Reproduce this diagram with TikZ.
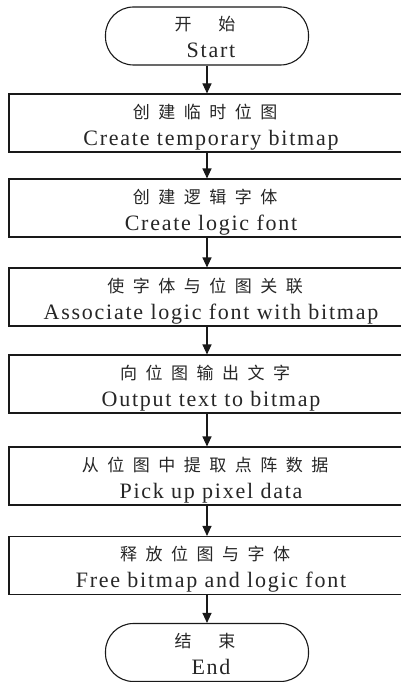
\documentclass[tikz,border=0pt]{standalone}
\usepackage{fontspec}
\setmainfont{Liberation Serif}[LetterSpace=8]
\newfontfamily\cjk[LetterSpace=50]{Noto Sans CJK SC}
\usetikzlibrary{arrows.meta}

\tikzset{
  procbox/.style={draw=black!90, line width=1.1pt, minimum width=396pt,
    minimum height=58pt, inner sep=0pt},
  termbox/.style={draw=black!90, line width=1.1pt, minimum width=203pt,
    minimum height=58pt, inner sep=0pt, rounded corners=28pt},
  cnlabel/.style={anchor=base, inner sep=0pt, font=\cjk\fontsize{17}{20}\selectfont, text=black!85},
  enlabel/.style={anchor=base, inner sep=0pt, font=\fontsize{22}{26}\selectfont, text=black!85},
  flowarrow/.style={draw=black!90, line width=1.1pt,
    -{Triangle[length=10pt,width=9pt]}},
}

% a box with a Chinese line above an English line
\newcommand\flowbox[5]{%
  \node[#2] (#1) at (207,#3) {};
  \node[cnlabel] (#1cn) at ([xshift=-2pt,yshift=5pt]#1.center) {#4};
  \node[enlabel] (#1en) at ([xshift=4pt,yshift=-22pt]#1.center) {#5};
}

\begin{document}
\begin{tikzpicture}[x=1pt,y=-1pt]
  \useasboundingbox (0,0) rectangle (401,682);
  \fill[white] (0,0) rectangle (401,682);
  \clip (0,0) rectangle (401,682);

  \flowbox{s}{termbox}{36}{开\hspace{27pt}始}{Start}
  \flowbox{b1}{procbox}{123}{创建临时位图}{Create temporary bitmap}
  \flowbox{b2}{procbox}{208}{创建逻辑字体}{Create logic font}
  \flowbox{b3}{procbox}{297}{使字体与位图关联}{Associate logic font with bitmap}
  \flowbox{b4}{procbox}{384}{向位图输出文字}{Output text to bitmap}
  \flowbox{b5}{procbox}{476}{从位图中提取点阵数据}{Pick up pixel data}
  \flowbox{b6}{procbox}{565.5}{释放位图与字体}{Free bitmap and logic font}
  \flowbox{e}{termbox}{652.5}{结\hspace{27pt}束}{End}

  \draw[flowarrow] (s.south) -- (b1.north);
  \draw[flowarrow] (b1.south) -- (b2.north);
  \draw[flowarrow] (b2.south) -- (b3.north);
  \draw[flowarrow] (b3.south) -- (b4.north);
  \draw[flowarrow] (b4.south) -- (b5.north);
  \draw[flowarrow] (b5.south) -- (b6.north);
  \draw[flowarrow] (b6.south) -- (e.north);
\end{tikzpicture}
\end{document}
